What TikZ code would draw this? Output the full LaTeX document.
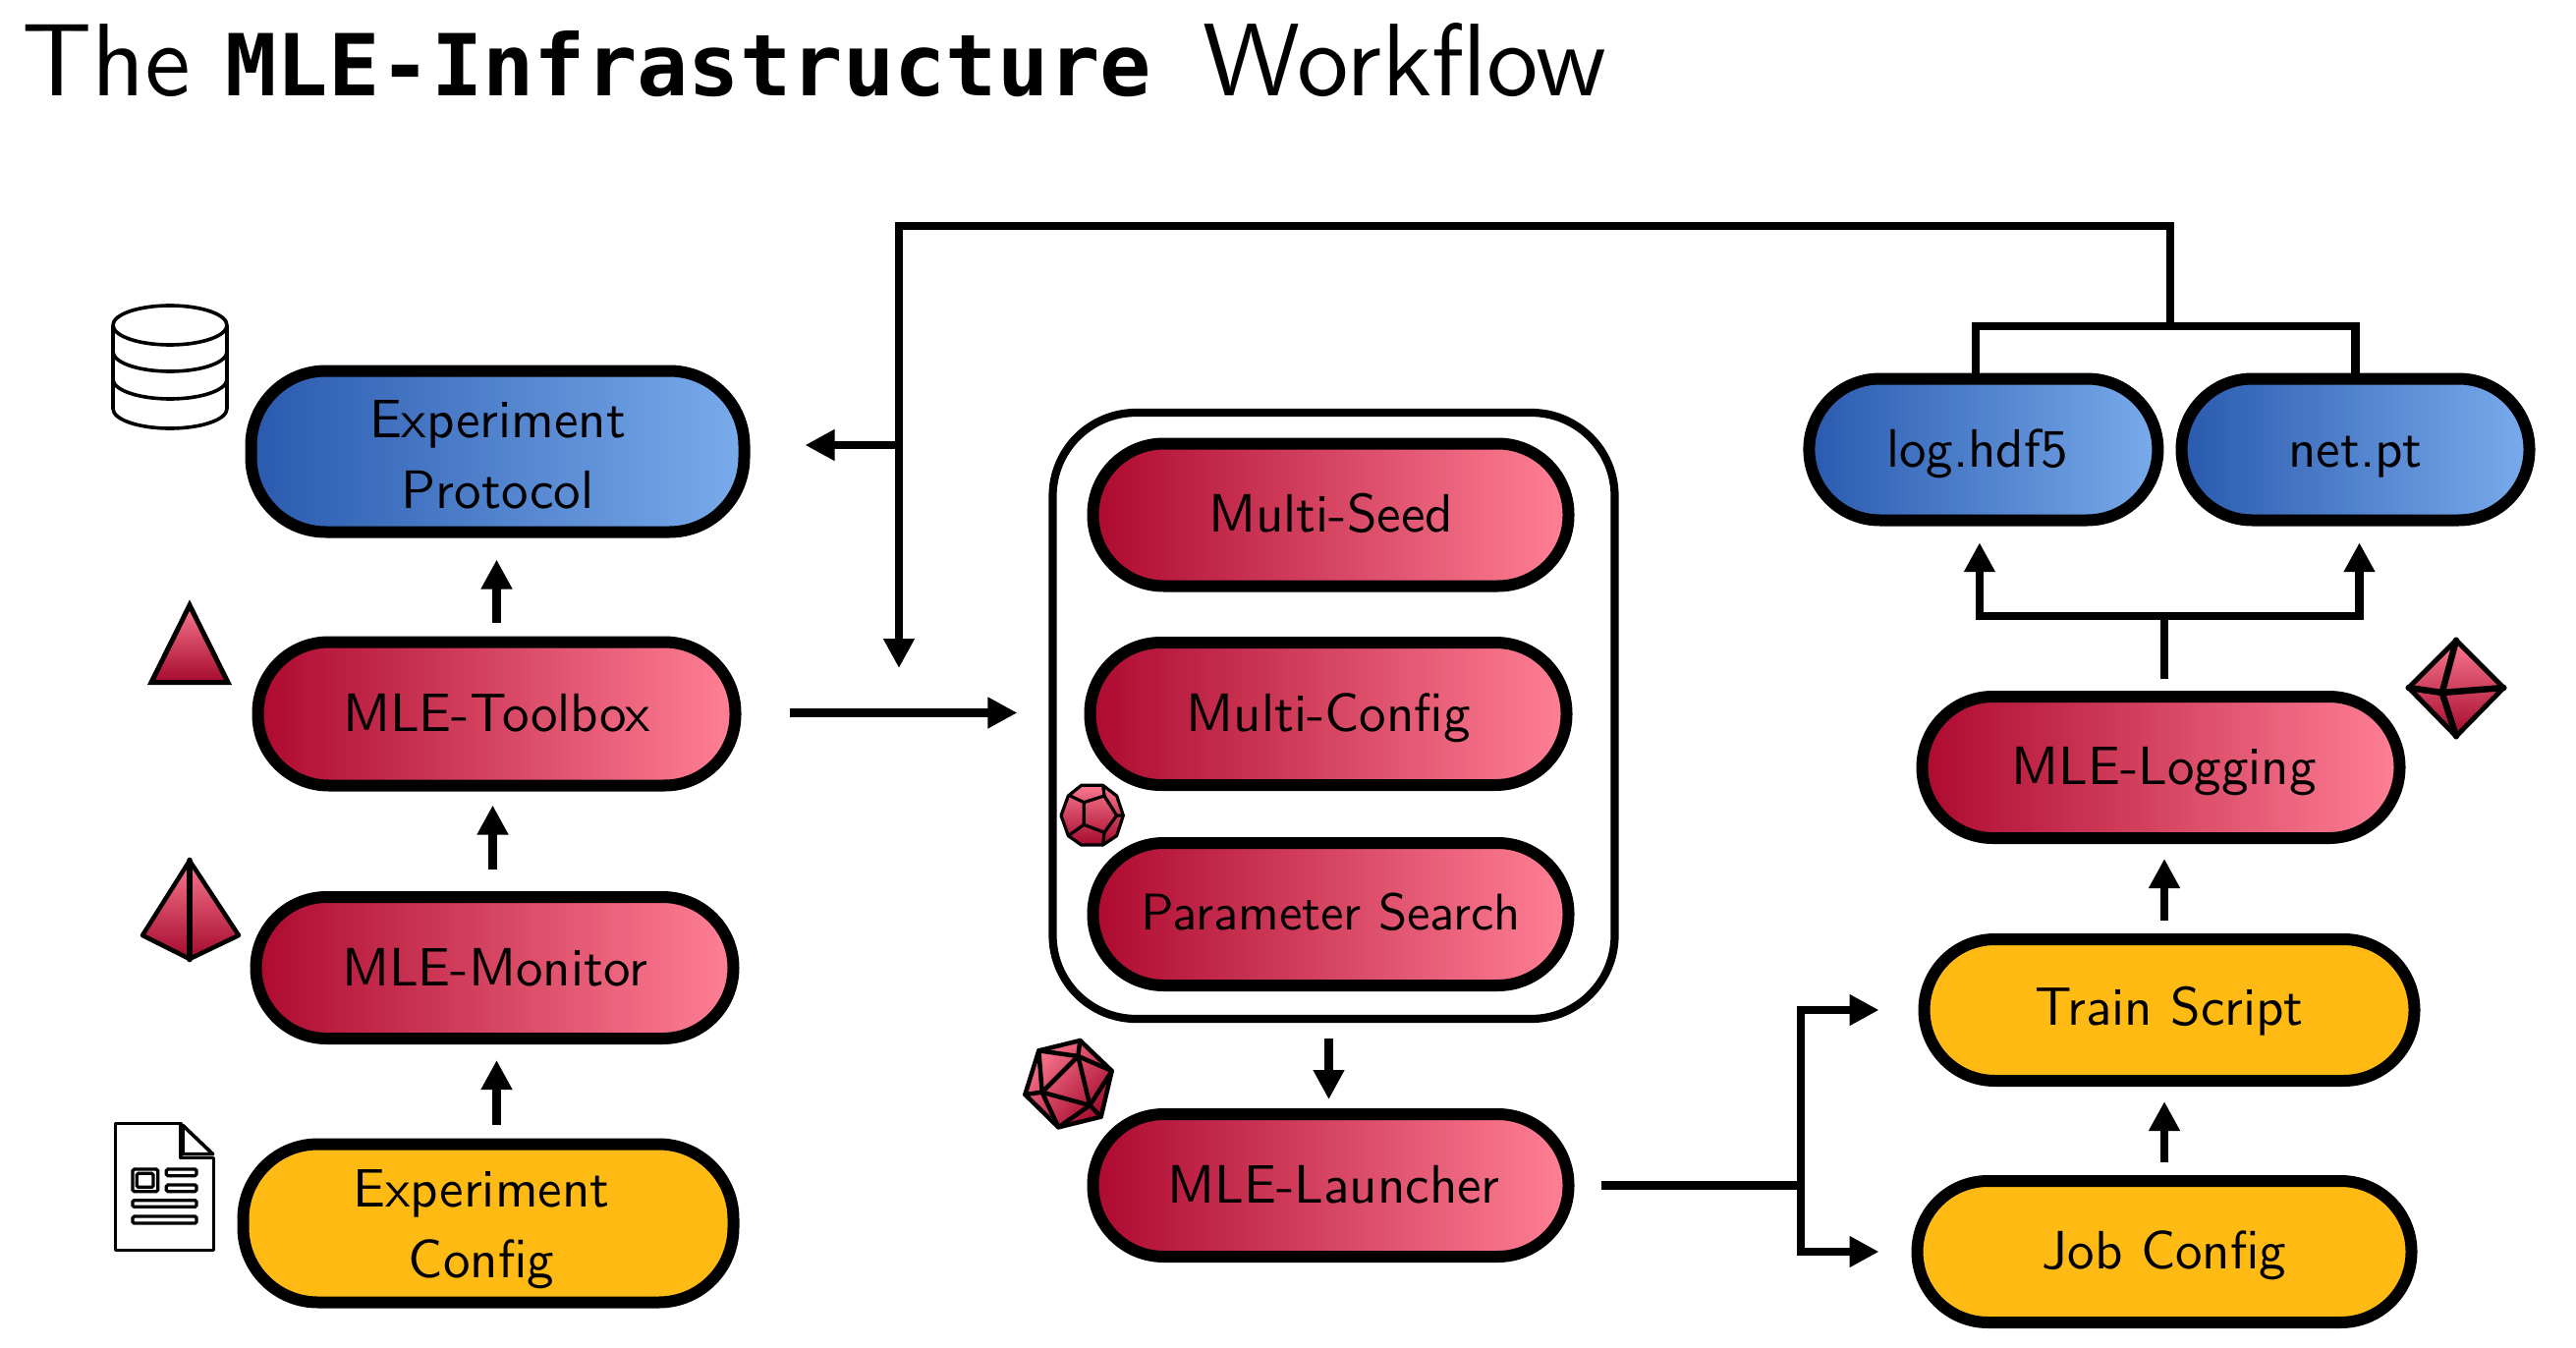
\documentclass[tikz,border=0pt]{standalone}
\usepackage{fontspec}
\setsansfont{lmsans10-regular.otf}
\newfontfamily\monof{DejaVu Sans Mono}
\usetikzlibrary{arrows.meta,calc}
\definecolor{crimL}{HTML}{AD0A2F}
\definecolor{crimR}{HTML}{FF8095}
\definecolor{blueL}{HTML}{2A5AAE}
\definecolor{blueR}{HTML}{79ABEC}
\definecolor{gold}{HTML}{FFBB14}
\definecolor{iconT}{HTML}{F9788F}
\definecolor{iconB}{HTML}{A50A2C}
\tikzset{
  pill/.style={draw=black,line width=12pt,align=center,inner sep=0pt,rounded corners=72pt,
    font=\sffamily\fontsize{55}{71.5}\selectfont,text=black},
  single/.style={text height=36pt,text depth=0pt},
  crim/.style={pill,single,left color=crimL,right color=crimR},
  blu/.style={pill,left color=blueL,right color=blueR},
  yel/.style={pill,fill=gold},
  holder/.style={draw=black,line width=8.2pt,fill=white,rounded corners=85pt,inner sep=0pt},
  conn/.style={draw=black,line width=8.2pt},
  arr/.style={conn,-{Triangle[length=30pt,width=30pt]}},
  gem/.style={draw=black,line join=round,line width=4.5pt,top color=iconT,bottom color=iconB},
  gemline/.style={draw=black,line join=round,line cap=round,line width=4.5pt},
  icon/.style={draw=black,line width=3.6pt,line join=round},
  docline/.style={draw=black,line width=3.2pt,rounded corners=1.5pt,fill=white},
}
\begin{document}
\begin{tikzpicture}[x=1pt,y=-1pt]
\useasboundingbox (0,0) rectangle (2622,1372);

\node[anchor=base west,inner sep=0pt,font=\sffamily\fontsize{105}{120}\selectfont] (title) at (22,98)
  {The {\monof\bfseries\fontsize{87}{120}\selectfont MLE-Infrastructure}\hspace{17pt} Workflow};

% pills
\node[blu,minimum width=502pt,minimum height=164pt,rounded corners=76pt] (protocol) at (506.5,459.5) {\rule{0pt}{44.5pt}Experiment\\Protocol};
\node[crim,minimum width=486pt,minimum height=146pt] (toolbox) at (505.5,726.5) {MLE-Toolbox};
\node[crim,minimum width=486pt,minimum height=144pt] (monitor) at (503.5,985) {MLE-Monitor};
\node[yel,minimum width=499pt,minimum height=161pt,rounded corners=76pt] (config) at (497,1245) {\rule{0pt}{50.5pt}\hspace{-14pt}Experiment\\\hspace{-14pt}Config};

\node[holder,minimum width=572pt,minimum height=617pt] (container) at (1357.5,728.5) {};
\node[crim,text height=34pt,minimum width=484pt,minimum height=145pt] (seed) at (1354.5,524) {Multi-Seed};
\node[crim,minimum width=485pt,minimum height=145pt] (mconfig) at (1352,726.5) {Multi-Config};
\node[crim,text height=32pt,font=\sffamily\fontsize{52.5}{68}\selectfont,minimum width=484pt,minimum height=145pt] (search) at (1354.5,930.5) {Parameter Search};
\node[crim,minimum width=484pt,minimum height=145pt] (launcher) at (1354.5,1206.5) {\hspace{6pt}MLE-Launcher};

\node[blu,single,minimum width=355pt,minimum height=144pt] (log) at (2018.9,457.5) {\hspace{-13pt}log.hdf5};
\node[blu,single,minimum width=354pt,minimum height=144pt] (net) at (2397.5,457.5) {net.pt};
\node[crim,text height=34pt,minimum width=486pt,minimum height=144pt] (logging) at (2199.5,781) {\hspace{6pt}MLE-Logging};
\node[yel,single,text height=31pt,minimum width=499pt,minimum height=144pt] (train) at (2208,1028) {Train Script};
\node[yel,single,text height=34pt,minimum width=503pt,minimum height=144pt] (job) at (2203,1274) {Job Config};

% coordinates of free ends and junctions
\coordinate (logtap) at (2011,380);
\coordinate (bar) at (2208.7,332);
\coordinate (fbturn) at (915,230);
\coordinate (fbtip) at (915,680);
\coordinate (fbj) at (915,453);
\coordinate (fork) at (1833,1206.5);
\coordinate (logfork) at (2203,627);

% left column
\draw[arr,shorten <=14pt,shorten >=16pt] (toolbox |- config.north) -- (toolbox |- monitor.south);
\draw[arr,shorten <=22pt,shorten >=14pt] ([xshift=-2pt]monitor.north) -- ([xshift=-2pt]monitor.north |- toolbox.south);
\draw[arr,shorten <=14pt,shorten >=22pt] (toolbox.north) -- (toolbox.north |- protocol.south);
\draw[arr,shorten <=49pt,shorten >=32pt] ([yshift=1pt]toolbox.east) -- ([yshift=1pt]toolbox.east -| container.west);

% feedback from the outputs
\draw[conn] (logtap) |- (bar) -| (net.north);
\draw[arr] (bar) |- (fbturn) -- (fbtip);
\draw[arr,shorten >=56pt] (fbj) -- (fbj -| protocol.east);

% middle
\draw[arr,shorten <=16pt,shorten >=9pt] ([xshift=-2pt]launcher.north |- container.south) -- ([xshift=-2pt]launcher.north);
\draw[conn,shorten <=27pt] (launcher.east) -- (fork);
\draw[arr,shorten >=40pt] (fork) |- (train.west);
\draw[arr,shorten >=33pt] (fork) |- (job.west);

% right column
\draw[arr,shorten <=13pt,shorten >=15pt] (job.north) -- (job.north |- train.south);
\draw[arr,shorten <=13pt,shorten >=15pt] (job.north |- train.north) -- (job.north |- logging.south);
\draw[conn,shorten <=12pt] ([xshift=3.5pt]logging.north) -- (logfork);
\draw[arr,shorten >=16.7pt] (logfork) -| ([xshift=-4pt]log.south);
\draw[arr,shorten >=16.7pt] (logfork) -| ([xshift=4pt]net.south);

% database icon
\begin{scope}
  \draw[icon,fill=white] (115,331) -- (115,416) arc[start angle=180,end angle=0,x radius=58,y radius=20] -- (231,331);
  \draw[icon,fill=white] (173,331) ellipse[x radius=58,y radius=20];
  \draw[icon] (115,358) arc[start angle=180,end angle=0,x radius=58,y radius=20];
  \draw[icon] (115,386) arc[start angle=180,end angle=0,x radius=58,y radius=20];
\end{scope}

% tetrahedron
\draw[gem,line join=miter,line width=5pt] (193,616) -- (232,694.5) -- (154,694.5) -- cycle;

% pyramid
\draw[gem,line width=4.5pt] (193,876) -- (243,952) -- (193,976) -- (145,952) -- cycle;
\draw[gemline,line width=6.7pt] (193,876) -- (193,976);

% dodecahedron
\begin{scope}[shift={(1000,760)},x=.33333pt,y=-.33333pt]
  \draw[gem,line width=3.2pt] (302,118) -- (368,118) -- (410,150) -- (430,210) -- (410,272) -- (368,300) -- (302,300) -- (262,272) -- (240,210) -- (262,150) -- cycle;
  \draw[gemline,line width=3.2pt] (310,170) -- (372,150) -- (410,210) -- (372,262) -- (310,238) -- cycle;
  \draw[gemline,line width=3.2pt] (310,170) -- (268,150) (372,150) -- (368,118) (410,210) -- (430,210) (372,262) -- (368,300) (310,238) -- (268,268);
\end{scope}

% icosahedron
\begin{scope}[shift={(1000,760)},x=.33333pt,y=-.33333pt]
  \draw[gem,shading angle=45] (172,928) -- (298,897) -- (395,990) -- (362,1130) -- (232,1162) -- (130,1062) -- cycle;
  \draw[gemline] (292,945) -- (182,1055) -- (328,1095) -- cycle;
  \draw[gemline] (172,928) -- (292,945) (298,897) -- (292,945) (395,990) -- (292,945) (395,990) -- (328,1095) (362,1130) -- (328,1095) (232,1162) -- (328,1095) (232,1162) -- (182,1055) (130,1062) -- (182,1055) (172,928) -- (182,1055);
\end{scope}

% octahedron
\begin{scope}[shift={(2400,620)},x=.33333pt,y=-.33333pt]
  \draw[gem,line width=5pt] (300,95) -- (445,240) -- (300,388) -- (155,240) -- cycle;
  \draw[gemline,line width=6.5pt] (300,95) -- (257,255) -- (300,388) (155,240) -- (257,255) -- (445,240);
\end{scope}

% document icon
\begin{scope}[shift={(100,1130)},x=.33333pt,y=-.33333pt]
  \draw[icon] (252,40) -- (52,40) -- (52,428) -- (352,428) -- (352,145) -- (252,145) -- cycle;
  \draw[icon] (258,46) -- (350,134) -- (258,134) -- cycle;
  \draw[docline] (105,180) rectangle (182,248);
  \draw[docline] (118,193) rectangle (168,235);
  \draw[docline] (208,180) rectangle (300,200);
  \draw[docline] (208,228) rectangle (300,248);
  \draw[docline] (105,275) rectangle (300,295);
  \draw[docline] (105,324) rectangle (300,345);
\end{scope}
\end{tikzpicture}
\end{document}
